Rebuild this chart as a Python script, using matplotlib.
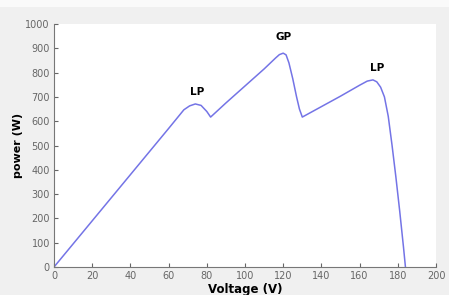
import matplotlib.pyplot as plt
from matplotlib.patches import Rectangle

voltage = [0, 20, 40, 60, 68, 71, 74, 77, 80, 82, 90, 100, 110, 116, 118, 120, 121.5, 123, 125, 127, 128.5, 130,
           140, 150, 160, 164, 167, 169, 171, 173, 175, 177, 179, 181, 183, 184]
power = [0, 190, 380, 570, 647, 663, 671, 665, 640, 617, 675, 745, 815, 860, 874, 880, 873, 840, 775, 700, 650, 617,
         660, 703, 748, 765, 770, 762, 740, 700, 620, 500, 370, 230, 80, 0]
ticks_x = [0, 20, 40, 60, 80, 100, 120, 140, 160, 180, 200]
ticks_y = [0, 100, 200, 300, 400, 500, 600, 700, 800, 900, 1000]
peaks = [("LP", 75, 700), ("GP", 120, 925), ("LP", 169, 800)]

fig = plt.figure(figsize=(4.49, 2.95), dpi=100, facecolor='#f0f0f0')
# lighter strip along the top edge of the screenshot
fig.patches.append(Rectangle((0, 1 - 7 / 295), 1, 7 / 295, transform=fig.transFigure,
                             facecolor='#fafafa', edgecolor='none', zorder=0))
ax = fig.add_axes([54 / 449, 28 / 295, 382 / 449, 243 / 295])
ax.plot(voltage, power, color='#7474e6', linewidth=1.1)

for name, vx, py in peaks:
    ax.text(vx, py, name, ha='center', va='bottom', fontsize=7.5, fontweight='bold')

ax.set_xlim(0, 200)
ax.set_ylim(0, 1000)
ax.set_xticks(ticks_x)
ax.set_yticks(ticks_y)
ax.tick_params(direction='in', length=3, labelsize=7, colors='#666666', pad=3)
for s in ['top', 'right']:
    ax.spines[s].set_visible(False)
for s in ['left', 'bottom']:
    ax.spines[s].set_color('#777777')
ax.set_xlabel('Voltage (V)', fontsize=8.5, fontweight='bold', labelpad=1.5)
ax.set_ylabel('power (W)', fontsize=8, fontweight='bold', labelpad=2)

fig.savefig('out.png', dpi=100, facecolor=fig.get_facecolor())
